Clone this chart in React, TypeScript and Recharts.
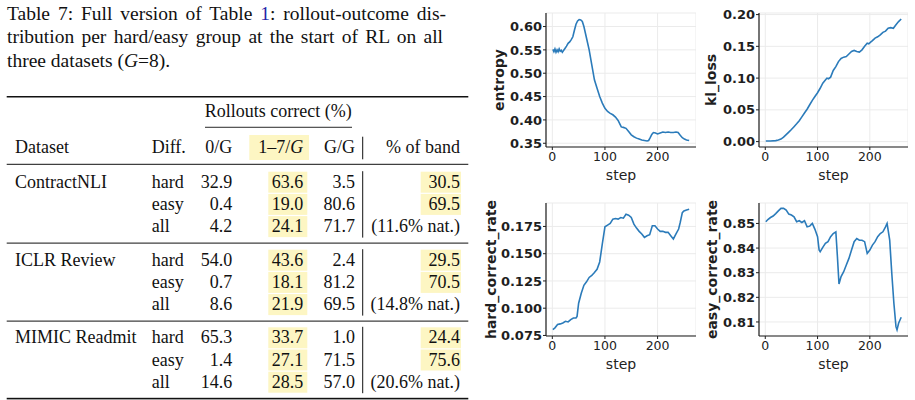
import { CartesianGrid, Line, LineChart, XAxis, YAxis } from "recharts";

// --- table data ---
const datasets = ["ContractNLI", "ICLR Review", "MIMIC Readmit"];
const difficulties = ["hard", "easy", "all"];
const zeroCorrect = [
  [32.9, 0.4, 4.2],
  [54.0, 0.7, 8.6],
  [65.3, 1.4, 14.6],
];
const someCorrect = [
  [63.6, 19.0, 24.1],
  [43.6, 18.1, 21.9],
  [33.7, 27.1, 28.5],
];
const allCorrect = [
  [3.5, 80.6, 71.7],
  [2.4, 81.2, 69.5],
  [1.0, 71.5, 57.0],
];
const bandShare = [
  [30.5, 69.5],
  [29.5, 70.5],
  [24.4, 75.6],
];
const naturalShare = [11.6, 14.8, 20.6];

// --- training curves: [step, value] ---
const entropy: [number, number][] = [
  [1, 0.551], [3, 0.546], [5, 0.552], [7, 0.545], [9, 0.55], [11, 0.546],
  [13, 0.552], [15, 0.547], [17, 0.549], [19, 0.545], [21, 0.548], [24, 0.553],
  [27, 0.558], [30, 0.564], [33, 0.567], [36, 0.572], [39, 0.578], [42, 0.592],
  [45, 0.605], [48, 0.612], [51, 0.615], [54, 0.614], [57, 0.611], [60, 0.6],
  [63, 0.585], [66, 0.57], [70, 0.55], [75, 0.518], [80, 0.486], [85, 0.468],
  [90, 0.45], [95, 0.436], [100, 0.425], [105, 0.418], [110, 0.414], [115, 0.411],
  [120, 0.406], [125, 0.399], [128, 0.392], [131, 0.385], [135, 0.384], [140, 0.382],
  [145, 0.375], [150, 0.368], [155, 0.364], [160, 0.361], [165, 0.359], [170, 0.357],
  [175, 0.356], [180, 0.355], [183, 0.356], [186, 0.362], [189, 0.369], [192, 0.373],
  [196, 0.372], [200, 0.37], [205, 0.372], [210, 0.374], [215, 0.373], [220, 0.374],
  [225, 0.373], [230, 0.373], [235, 0.374], [239, 0.373], [243, 0.367], [247, 0.362],
  [251, 0.359], [255, 0.357], [260, 0.356],
];

const klLoss: [number, number][] = [
  [1, 0.001], [10, 0.001], [20, 0.0016], [25, 0.0025], [30, 0.004], [35, 0.007],
  [40, 0.011], [45, 0.015], [50, 0.019], [55, 0.0235], [60, 0.028], [65, 0.033],
  [70, 0.039], [75, 0.045], [80, 0.051], [85, 0.058], [90, 0.065], [95, 0.071],
  [100, 0.077], [105, 0.084], [110, 0.092], [115, 0.097], [118, 0.1], [121, 0.099],
  [125, 0.1015], [130, 0.112], [135, 0.118], [140, 0.126], [145, 0.131], [150, 0.133],
  [155, 0.134], [160, 0.138], [165, 0.142], [170, 0.1435], [175, 0.142], [180, 0.141],
  [185, 0.1445], [190, 0.15], [195, 0.155], [198, 0.154], [202, 0.157], [205, 0.159],
  [210, 0.163], [215, 0.165], [220, 0.168], [225, 0.172], [230, 0.174], [235, 0.1785],
  [240, 0.1795], [245, 0.1785], [250, 0.184], [255, 0.189], [260, 0.193],
];

const hardCorrect: [number, number][] = [
  [1, 0.0804], [5, 0.082], [10, 0.085], [15, 0.0856], [20, 0.0865], [25, 0.088],
  [30, 0.0874], [35, 0.0895], [40, 0.091], [45, 0.091], [47, 0.0925], [50, 0.1046],
  [55, 0.1137], [60, 0.121], [65, 0.1242], [70, 0.1282], [75, 0.13], [80, 0.1327],
  [85, 0.1357], [90, 0.1424], [95, 0.159], [100, 0.1747], [105, 0.1762], [110, 0.1777],
  [115, 0.1817], [120, 0.1822], [125, 0.1817], [130, 0.1832], [135, 0.1826], [140, 0.1862],
  [145, 0.1853], [150, 0.1832], [155, 0.1771], [160, 0.1735], [165, 0.1705], [170, 0.1681],
  [175, 0.165], [180, 0.1665], [185, 0.1675], [190, 0.1756], [195, 0.1756], [200, 0.1726],
  [205, 0.1705], [210, 0.1705], [215, 0.1696], [220, 0.1696], [225, 0.1665], [230, 0.1635],
  [235, 0.1681], [240, 0.1726], [243, 0.1786], [247, 0.1877], [250, 0.1892], [255, 0.1901],
  [260, 0.1907],
];

const easyCorrect: [number, number][] = [
  [1, 0.8507], [5, 0.8516], [10, 0.8524], [15, 0.853], [20, 0.854], [25, 0.8551],
  [30, 0.8561], [35, 0.8561], [40, 0.8554], [45, 0.8538], [50, 0.8534], [55, 0.8527],
  [60, 0.8507], [65, 0.8511], [70, 0.8504], [75, 0.8511], [80, 0.8486], [85, 0.8489],
  [90, 0.85], [95, 0.8476], [100, 0.8446], [103, 0.8392], [105, 0.8385], [110, 0.8403],
  [115, 0.8419], [120, 0.8426], [125, 0.8446], [130, 0.8459], [135, 0.8466], [138, 0.8365],
  [141, 0.8254], [145, 0.8284], [150, 0.8304], [155, 0.8331], [160, 0.8358], [165, 0.8392],
  [170, 0.8426], [175, 0.8439], [180, 0.8432], [185, 0.8432], [190, 0.8426], [195, 0.8378],
  [200, 0.8392], [205, 0.8412], [210, 0.8426], [215, 0.8446], [220, 0.8459], [225, 0.8466],
  [230, 0.8486], [233, 0.85], [238, 0.8432], [242, 0.8297], [246, 0.8176], [250, 0.8081],
  [252, 0.8068], [255, 0.8095], [260, 0.8119],
];

const stepTicks = [0, 100, 200];

const BLUE = "#2b7bba";
const GRID = "#ebebeb";
const INK = "#1f1f1f";
const HILITE = "#fdf6c3";
const SERIF = "'Liberation Serif', 'Times New Roman', serif";
const SANS = "'DejaVu Sans', sans-serif";

function yLabel(text: string, dx: number) {
  // eslint-disable-next-line @typescript-eslint/no-explicit-any
  return (props: any) => {
    const vb = props.viewBox ?? { x: 0, y: 0, height: 0 };
    const cx = vb.x + dx;
    const cy = vb.y + vb.height / 2;
    return (
      <text
        x={cx}
        y={cy}
        transform={`rotate(-90 ${cx} ${cy})`}
        textAnchor="middle"
        dominantBaseline="central"
        fontFamily={SANS}
        fontWeight="bold"
        fontSize={14}
        fill={INK}
      >
        {text}
      </text>
    );
  };
}

function Panel({
  left,
  top,
  width,
  height,
  points,
  yDomain,
  yTicks,
  decimals,
  label,
  labelDx,
}: {
  left: number;
  top: number;
  width: number;
  height: number;
  points: [number, number][];
  yDomain: [number, number];
  yTicks: number[];
  decimals: number;
  label: string;
  labelDx: number;
}) {
  const data = points.map(([step, value]) => ({ step, value }));
  return (
    <div style={{ position: "absolute", left, top }}>
      <LineChart
        width={width}
        height={height}
        data={data}
        margin={{ top: 13, right: 0, bottom: 0, left: 0 }}
      >
        <CartesianGrid stroke={GRID} strokeWidth={1} />
        <XAxis
          dataKey="step"
          type="number"
          domain={[-12, 273]}
          ticks={stepTicks}
          height={43}
          tickSize={3}
          tickMargin={2}
          axisLine={{ stroke: INK, strokeWidth: 1.2 }}
          tickLine={{ stroke: INK }}
          tick={{ fontSize: 12.5, fill: "#222", fontFamily: SANS }}
          label={{
            value: "step",
            position: "insideBottom",
            offset: 10,
            fontSize: 14,
            fill: "#222",
            fontFamily: SANS,
          }}
        />
        <YAxis
          type="number"
          domain={yDomain}
          ticks={yTicks}
          width={62}
          tickSize={3}
          tickMargin={1}
          axisLine={{ stroke: INK, strokeWidth: 1.2 }}
          tickLine={{ stroke: INK }}
          tick={{ fontSize: 13, fontWeight: "bold", fill: INK, fontFamily: SANS }}
          tickFormatter={(v: number) => v.toFixed(decimals)}
          label={yLabel(label, labelDx)}
        />
        <Line
          type="linear"
          dataKey="value"
          stroke={BLUE}
          strokeWidth={1.6}
          dot={false}
          isAnimationActive={false}
        />
      </LineChart>
    </div>
  );
}

function fmt(v: number) {
  return v.toFixed(1);
}

function ResultsTable() {
  const colZero = 232.3;
  const colSome = 303.3;
  const colAll = 355;
  const colBand = 460;
  const vRule = 362.7;
  const firstBaselines = [187.7, 265.7, 343.3];
  const pitch = 22.2;
  return (
    <svg
      width={470}
      height={400}
      style={{ position: "absolute", left: 0, top: 0 }}
      fontFamily={SERIF}
      fontSize={18}
      fill="#111"
    >
      <rect x={6.7} y={96} width={461.6} height={1.5} fill="#111" />
      <text x={278.3} y={117.3} textAnchor="middle">
        Rollouts correct (%)
      </text>
      <rect x={205} y={126.8} width={147} height={0.9} fill="#111" />
      <rect x={249.3} y={135} width={59.7} height={25} fill={HILITE} />
      <text x={15} y={152.7}>Dataset</text>
      <text x={151.7} y={152.7}>Diff.</text>
      <text x={colZero} y={152.7} textAnchor="end">0/G</text>
      <text x={colSome} y={152.7} textAnchor="end">
        1–7/<tspan fontStyle="italic">G</tspan>
      </text>
      <text x={colAll} y={152.7} textAnchor="end">G/G</text>
      <rect x={vRule - 0.5} y={136.7} width={1} height={22.6} fill="#111" />
      <text x={colBand} y={152.7} textAnchor="end">% of band</text>
      <rect x={6.7} y={163.8} width={461.6} height={1} fill="#111" />

      {datasets.map((name, g) => {
        const b0 = firstBaselines[g];
        return (
          <g key={name}>
            <text x={15} y={b0}>{name}</text>
            <rect
              x={vRule - 0.5}
              y={b0 - 16.5}
              width={1}
              height={pitch * 2 + 22}
              fill="#111"
            />
            {difficulties.map((diff, r) => {
              const y = b0 + r * pitch;
              return (
                <g key={diff}>
                  <rect x={268.3} y={y - 16} width={39} height={21} fill={HILITE} />
                  {r < 2 && (
                    <rect x={420.7} y={y - 16} width={40.3} height={21} fill={HILITE} />
                  )}
                  <text x={151.7} y={y}>{diff}</text>
                  <text x={colZero} y={y} textAnchor="end">{fmt(zeroCorrect[g][r])}</text>
                  <text x={colSome} y={y} textAnchor="end">{fmt(someCorrect[g][r])}</text>
                  <text x={colAll} y={y} textAnchor="end">{fmt(allCorrect[g][r])}</text>
                  <text x={colBand} y={y} textAnchor="end">
                    {r < 2 ? fmt(bandShare[g][r]) : `(${fmt(naturalShare[g])}% nat.)`}
                  </text>
                </g>
              );
            })}
            {g < 2 && (
              <rect x={6.7} y={b0 + pitch * 2 + 10.5} width={461.6} height={1} fill="#111" />
            )}
          </g>
        );
      })}
      <rect x={6.7} y={397.8} width={461.6} height={1.6} fill="#111" />
    </svg>
  );
}

function Caption() {
  const line = {
    position: "absolute" as const,
    left: 7,
    fontFamily: SERIF,
    fontSize: 19.5,
    lineHeight: "23.3px",
    color: "#111",
    whiteSpace: "nowrap" as const,
  };
  return (
    <>
      <div style={{ ...line, top: 2, width: 439, textAlign: "justify", textAlignLast: "justify" }}>
        Table 7: Full version of Table <span style={{ color: "#2424a8" }}>1</span>: rollout-outcome dis-
      </div>
      <div style={{ ...line, top: 25.3, width: 436, textAlign: "justify", textAlignLast: "justify" }}>
        tribution per hard/easy group at the start of RL on all
      </div>
      <div style={{ ...line, top: 48.6 }}>
        three datasets (<i>G</i>=8).
      </div>
    </>
  );
}

export default function App() {
  return (
    <div
      style={{
        position: "absolute",
        left: 0,
        top: 0,
        width: 915,
        height: 400,
        background: "#fff",
        overflow: "hidden",
      }}
    >
      <Caption />
      <ResultsTable />
      <Panel
        left={484}
        top={0}
        width={212}
        height={190}
        points={entropy}
        yDomain={[0.342, 0.629]}
        yTicks={[0.35, 0.4, 0.45, 0.5, 0.55, 0.6]}
        decimals={2}
        label="entropy"
        labelDx={15}
      />
      <Panel
        left={697}
        top={0}
        width={211}
        height={190}
        points={klLoss}
        yDomain={[-0.0085, 0.2025]}
        yTicks={[0, 0.05, 0.1, 0.15, 0.2]}
        decimals={2}
        label="kl_loss"
        labelDx={14}
      />
      <Panel
        left={484}
        top={190}
        width={212}
        height={189}
        points={hardCorrect}
        yDomain={[0.0745, 0.1965]}
        yTicks={[0.075, 0.1, 0.125, 0.15, 0.175]}
        decimals={3}
        label="hard_correct_rate"
        labelDx={7}
      />
      <Panel
        left={697}
        top={190}
        width={211}
        height={189}
        points={easyCorrect}
        yDomain={[0.8043, 0.8583]}
        yTicks={[0.81, 0.82, 0.83, 0.84, 0.85]}
        decimals={2}
        label="easy_correct_rate"
        labelDx={15}
      />
    </div>
  );
}
